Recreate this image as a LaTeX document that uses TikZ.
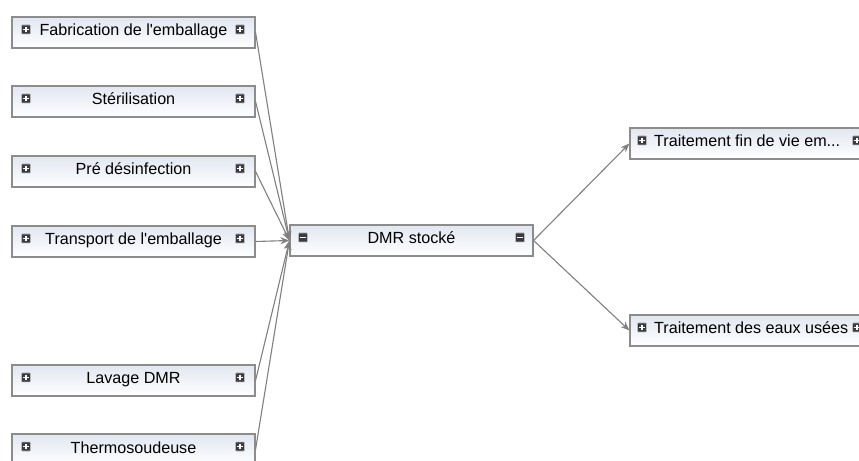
\documentclass[tikz,border=0pt]{standalone}
\usepackage{fontspec}
\setmainfont{Liberation Sans}[Ligatures=TeXOff]
\usetikzlibrary{arrows.meta}
\definecolor{edgegray}{RGB}{128,128,128}
\definecolor{boxborder}{RGB}{140,140,140}
\definecolor{boxtop}{RGB}{225,230,240}
\definecolor{icondark}{RGB}{58,58,64}
\tikzset{
  box/.style={draw=boxborder, line width=1.1bp, rectangle, minimum width=243bp,
    minimum height=31bp, inner sep=0pt, top color=boxtop, bottom color=white},
  lbl/.style={font=\fontsize{16.2}{19}\selectfont, inner sep=0pt},
  icon/.style={rectangle, fill=icondark, draw=gray!55, line width=0.6bp,
    minimum size=9bp, inner sep=0pt, rounded corners=0.8bp},
  iplus/.style={icon, path picture={\draw[white, line width=1.6bp]
    ([xshift=-2.6bp]path picture bounding box.center) -- ([xshift=2.6bp]path picture bounding box.center)
    ([yshift=-2.6bp]path picture bounding box.center) -- ([yshift=2.6bp]path picture bounding box.center);}},
  iminus/.style={icon, path picture={\draw[white, line width=1.6bp]
    ([xshift=-2.6bp]path picture bounding box.center) -- ([xshift=2.6bp]path picture bounding box.center);}},
  conn/.style={draw=edgegray, line width=1.1bp, -{Stealth[length=9bp,width=7bp]}}
}
\newcommand\leftbox[3]{%
  \node[box] (#1) at (133.5,#2+15.5) {};
  \node[lbl, anchor=base] (#1t) at (133.5,#2+19) {#3};
  \node[iplus] (#1l) at (26,#2+12.5) {};
  \node[iplus] (#1r) at (240,#2+12.5) {};}
\newcommand\rightbox[3]{%
  \node[box] (#1) at (751.5,#2+15.5) {};
  \node[lbl, anchor=base west] (#1t) at (654,#2+19) {#3};
  \node[iplus] (#1l) at (642,#2+12.5) {};
  \node[iplus] (#1r) at (857,#2+12.5) {};}
\begin{document}
\begin{tikzpicture}[x=1bp,y=-1bp]
  \useasboundingbox (0,0) rectangle (859,461);
  \clip (0,0) rectangle (859,461);
  \fill[white] (0,0) rectangle (859,461);
  \leftbox{fab}{17}{Fabrication de l'emballage}
  \leftbox{ster}{86}{Stérilisation}
  \leftbox{pre}{156}{Pré désinfection}
  \leftbox{trans}{226}{Transport de l'emballage}
  \leftbox{lav}{365}{Lavage DMR}
  \leftbox{therm}{434}{Thermosoudeuse}
  \node[box] (dmr) at (411.5,240.5) {};
  \node[lbl, anchor=base] (dmrt) at (411.5,244) {DMR stocké};
  \node[iminus] (dmrl) at (303,237.5) {};
  \node[iminus] (dmrr) at (520,237.5) {};
  \rightbox{tfv}{128}{Traitement fin de vie em...}
  \rightbox{teu}{315}{Traitement des eaux usées}
  \foreach \s in {fab,ster,pre,trans,lav,therm}
    \draw[conn] (\s.east) -- (dmr.west);
  \draw[conn] (dmr.east) -- (tfv.west);
  \draw[conn] (dmr.east) -- (teu.west);
\end{tikzpicture}
\end{document}
